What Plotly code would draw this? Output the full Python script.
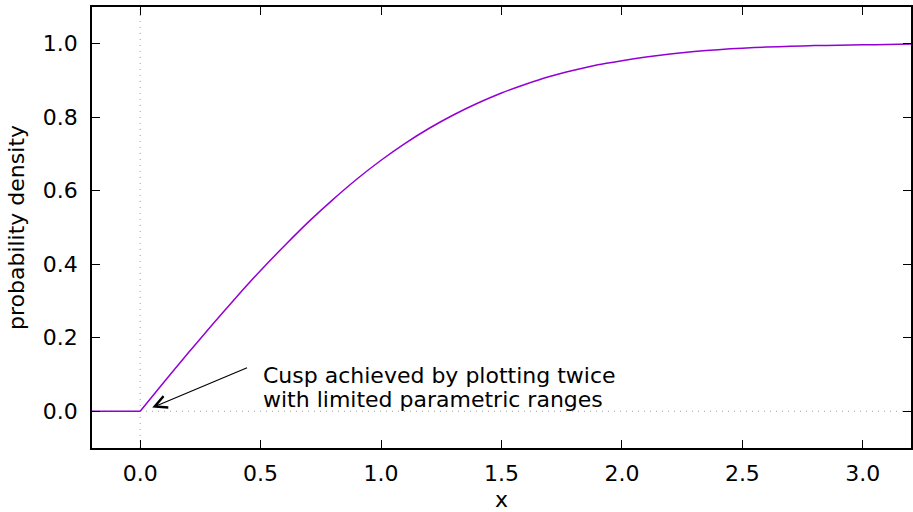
import plotly.graph_objects as go

# left flat segment (x < 0)
x_left = [-0.2, 0.0]
y_left = [0.0, 0.0]

# curve (x >= 0)
x_curve = [0.0, 0.1, 0.2, 0.3, 0.4, 0.5, 0.6, 0.7, 0.8, 0.9, 1.0, 1.1, 1.2, 1.3, 1.4, 1.5, 1.6,
           1.7, 1.8, 1.9, 2.0, 2.1, 2.2, 2.3, 2.4, 2.5, 2.6, 2.7, 2.8, 2.9, 3.0, 3.1, 3.2]
y_curve = [0.000, 0.080, 0.159, 0.236, 0.311, 0.383, 0.451, 0.516, 0.576, 0.632, 0.683, 0.729,
           0.770, 0.806, 0.838, 0.866, 0.890, 0.911, 0.928, 0.943, 0.954, 0.964, 0.972, 0.979,
           0.984, 0.988, 0.991, 0.993, 0.995, 0.996, 0.997, 0.998, 0.999]

x_ticks = [0.0, 0.5, 1.0, 1.5, 2.0, 2.5, 3.0]
x_ticklabels = ["0.0", "0.5", "1.0", "1.5", "2.0", "2.5", "3.0"]
y_ticks = [0.0, 0.2, 0.4, 0.6, 0.8, 1.0]
y_ticklabels = ["0.0", "0.2", "0.4", "0.6", "0.8", "1.0"]

note_lines = ["Cusp achieved by plotting twice", "with limited parametric ranges"]
note_y = [0.098, 0.033]

LINE = "#9400d3"
FONT = "DejaVu Sans"
FS = 22

fig = go.Figure()
fig.add_trace(go.Scatter(x=x_left, y=y_left, mode="lines",
                         line=dict(color=LINE, width=1.5), showlegend=False))
fig.add_trace(go.Scatter(x=x_curve, y=y_curve, mode="lines",
                         line=dict(color=LINE, width=1.5, shape="spline", smoothing=0.6),
                         showlegend=False))

# dotted zero axes
fig.add_shape(type="line", xref="x", yref="paper", x0=0, x1=0, y0=0, y1=1,
              line=dict(color="#a0a0a0", width=1, dash="1px,5px"), layer="below")
fig.add_shape(type="line", xref="paper", yref="y", x0=0, x1=1, y0=0, y1=0,
              line=dict(color="#a0a0a0", width=1, dash="1px,5px"), layer="below")

fig.add_annotation(x=0.05, y=0.01, ax=0.45, ay=0.12, xref="x", yref="y", axref="x", ayref="y",
                   text="", showarrow=True, arrowhead=5, arrowsize=2, arrowwidth=1.2,
                   arrowcolor="black")
for txt, yy in zip(note_lines, note_y):
    fig.add_annotation(x=0.5, y=yy, xref="x", yref="y", text=txt, showarrow=False,
                       xanchor="left", yanchor="middle", align="left",
                       font=dict(family=FONT, size=FS, color="black"))

axis_common = dict(showline=True, linecolor="black", linewidth=1.5, mirror="ticks",
                   ticks="inside", ticklen=8, tickwidth=1.2, tickcolor="black",
                   showgrid=False, zeroline=False, automargin=False,
                   tickfont=dict(family=FONT, size=FS, color="black"))

fig.update_xaxes(range=[-0.2, 3.2], tickvals=x_ticks, ticktext=x_ticklabels,
                 ticklabelstandoff=5,
                 title=dict(text="x", font=dict(family=FONT, size=FS, color="black"), standoff=16),
                 **axis_common)
fig.update_yaxes(range=[-0.1, 1.1], tickvals=y_ticks, ticktext=y_ticklabels,
                 ticklabelstandoff=8,
                 title=dict(text="probability density", font=dict(family=FONT, size=FS, color="black"), standoff=12),
                 **axis_common)

fig.update_layout(width=913, height=512, margin=dict(l=92, r=2, t=6.5, b=63.5),
                  plot_bgcolor="white", paper_bgcolor="white",
                  font=dict(family=FONT, size=FS, color="black"))

fig.write_html("out.html", config={"displayModeBar": False},
               post_script="document.body.style.margin='0';")
